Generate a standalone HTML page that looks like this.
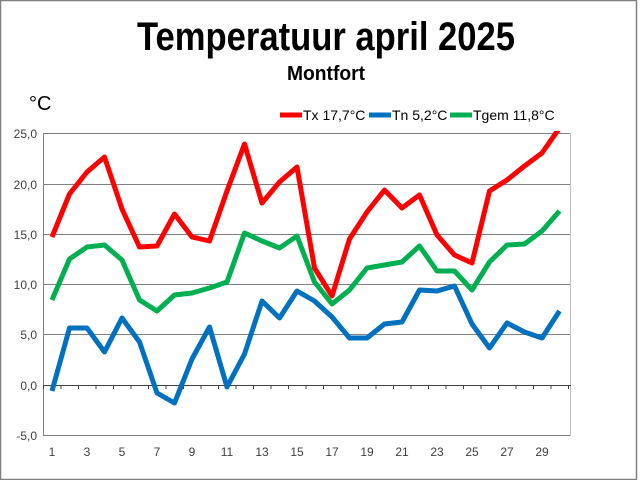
<!DOCTYPE html>
<html><head><meta charset="utf-8"><style>html,body{margin:0;padding:0;background:#fff}svg{display:block}</style></head><body>
<svg width="640" height="480" viewBox="0 0 640 480" xmlns="http://www.w3.org/2000/svg" font-family="Liberation Sans, sans-serif">
<rect x="0.5" y="0.5" width="636" height="479" fill="#fff" stroke="#808080" stroke-width="1.5"/>
<text x="326" y="50" font-size="40" font-weight="bold" text-anchor="middle" textLength="378" lengthAdjust="spacingAndGlyphs">Temperatuur april 2025</text>
<text x="326" y="80" font-size="20" font-weight="bold" text-anchor="middle" textLength="78" lengthAdjust="spacingAndGlyphs">Montfort</text>
<text x="29" y="110" font-size="20">°C</text>
<g stroke="#808080" stroke-width="1">
<line x1="43" y1="133.5" x2="571" y2="133.5"/>
<line x1="43" y1="184.5" x2="571" y2="184.5"/>
<line x1="43" y1="234.5" x2="571" y2="234.5"/>
<line x1="43" y1="284.5" x2="571" y2="284.5"/>
<line x1="43" y1="334.5" x2="571" y2="334.5"/>
<line x1="43" y1="435.5" x2="571" y2="435.5"/>
</g>
<line x1="570.5" y1="133" x2="570.5" y2="436" stroke="#c0c0c0"/>
<line x1="43.5" y1="133" x2="43.5" y2="436" stroke="#808080"/>
<line x1="43" y1="385.5" x2="571" y2="385.5" stroke="#404040"/>
<g stroke="#404040" stroke-width="1" id="ticks"></g>
<g font-size="12" fill="#404040" text-anchor="end">
<text x="37" y="138">25,0</text><text x="37" y="189">20,0</text><text x="37" y="239">15,0</text>
<text x="37" y="289">10,0</text><text x="37" y="339">5,0</text><text x="37" y="390">0,0</text><text x="37" y="440">-5,0</text>
</g>
<g font-size="12" fill="#404040" text-anchor="middle" id="xl"></g>
<defs><clipPath id="c"><rect x="43" y="131" width="528" height="310"/></clipPath></defs>
<g fill="none" stroke-width="5" stroke-linejoin="round" clip-path="url(#c)">
<polyline id="tx" stroke="#ff0000"/>
<polyline id="tg" stroke="#00b050"/>
<polyline id="tn" stroke="#0070c0"/>
</g>
<g font-size="14" fill="#000">
<line x1="280" y1="115" x2="302" y2="115" stroke="#ff0000" stroke-width="5"/><text x="303" y="120">Tx 17,7°C</text>
<line x1="369" y1="115" x2="391" y2="115" stroke="#0070c0" stroke-width="5"/><text x="392" y="120">Tn 5,2°C</text>
<line x1="450" y1="115" x2="472" y2="115" stroke="#00b050" stroke-width="5"/><text x="473" y="120">Tgem 11,8°C</text>
</g>
<script>
var tx=[237,194,172,157,209,247,246,214,237,241,191,144,203,182,167,268,296,239,212,190,208,195,235,255,263,191,180,166,153,128];
var tn=[391,328,328,352,318,342,393,403,359,327,387,354,301,318,291,301,317,338,338,324,322,290,291,286,324,348,323,332,338,311];
var tg=[300,259,247,245,260,300,311,295,293,288,282,233,241,248,236,282,304,290,268,265,262,246,271,271,290,262,245,244,231,211];
function X(i){return 52+i*17.5;}
function pts(a){return a.map(function(v,i){return X(i)+","+v}).join(" ");}
document.getElementById("tx").setAttribute("points",pts(tx));
document.getElementById("tn").setAttribute("points",pts(tn));
document.getElementById("tg").setAttribute("points",pts(tg));
var ns="http://www.w3.org/2000/svg",t=document.getElementById("ticks"),xl=document.getElementById("xl");
for(var i=0;i<=30;i++){var l=document.createElementNS(ns,"line");var x=43.5+i*17.5;l.setAttribute("x1",x);l.setAttribute("x2",x);l.setAttribute("y1",385);l.setAttribute("y2",389);t.appendChild(l);}
for(var d=1;d<=29;d+=2){var e=document.createElementNS(ns,"text");e.setAttribute("x",X(d-1));e.setAttribute("y",456);e.textContent=d;xl.appendChild(e);}
</script>
</svg>
</body></html>
